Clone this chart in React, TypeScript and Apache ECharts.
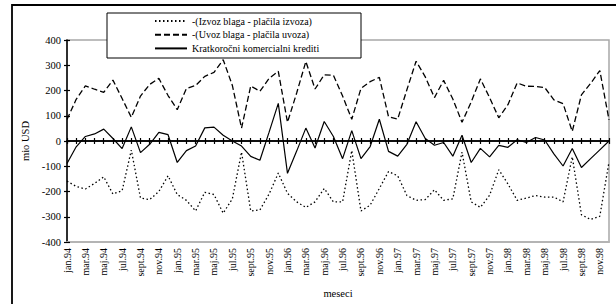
import React, { useEffect, useRef } from "react";
import * as echarts from "echarts";

const monthNames = ["jan", "feb", "mar", "apr", "maj", "jun", "jul", "avg", "sept", "okt", "nov", "dec"];
const years = ["94", "95", "96", "97", "98"];
const categories: string[] = [];
years.forEach((y) => monthNames.forEach((m) => categories.push(m + "." + y)));

const seriesNames = [
  "-(Izvoz blaga - plačila izvoza)",
  "-(Uvoz blaga - plačila uvoza)",
  "Kratkoročni komercialni krediti",
];

const izvoz = [
  -159, -180, -190, -168, -142, -210, -197, -36, -226, -232, -200, -138,
  -212, -235, -277, -203, -212, -286, -229, -44, -277, -273, -210, -127,
  -207, -241, -263, -241, -188, -241, -241, -38, -277, -254, -188, -121,
  -138, -216, -235, -232, -193, -235, -229, -44, -241, -263, -215, -114,
  -170, -235, -226, -216, -222, -222, -241, -63, -292, -311, -298, -83,
];

const uvoz = [
  85, 165, 218, 205, 193, 241, 168, 94, 178, 224, 248, 180,
  124, 208, 220, 256, 272, 322, 220, 51, 218, 197, 248, 276,
  74, 190, 315, 206, 262, 260, 178, 86, 208, 235, 252, 96,
  87, 203, 316, 254, 172, 240, 166, 74, 155, 246, 172, 92,
  144, 230, 217, 216, 212, 163, 148, 38, 183, 228, 279, 84,
];

const krediti = [
  -89, -23, 18, 28, 47, 10, -30, 56, -46, -13, 34, 25,
  -85, -38, -20, 52, 55, 23, 0, -20, -61, -76, 35, 149,
  -128, -40, 51, -28, 77, 18, -70, 41, -70, -22, 86, -41,
  -60, -13, 76, 10, -17, -6, -60, 23, -85, -29, -63, -17,
  -25, 5, -6, 14, 4, -51, -99, -30, -105, -70, -35, 0,
];

const FONT = "Liberation Serif, Times New Roman, serif";

export default function App() {
  const ref = useRef<HTMLDivElement>(null);
  useEffect(() => {
    if (!ref.current) return;
    const chart = echarts.init(ref.current, undefined, { renderer: "svg" });
    const zeroAxis = (inside: boolean) => ({
      type: "category",
      data: categories,
      boundaryGap: false,
      position: "bottom",
      axisLine: { show: true, onZero: true, onZeroAxisIndex: 0, lineStyle: { color: "#000", width: 1.5 } },
      axisTick: { show: true, interval: 0, inside, length: 3, lineStyle: { color: "#000", width: 1.2 } },
      axisLabel: { show: false },
      splitLine: { show: false },
    });
    chart.setOption({
      animation: false,
      textStyle: { fontFamily: FONT },
      grid: {
        left: 67,
        right: 7,
        top: 40,
        bottom: 54,
        show: true,
        borderColor: "#a8a8a8",
        borderWidth: 1.5,
        backgroundColor: "transparent",
      },
      legend: {
        orient: "vertical",
        left: 154,
        top: 16,
        itemWidth: 32,
        itemHeight: 10,
        itemGap: 3.7,
        padding: 0,
        itemStyle: { opacity: 0 },
        textStyle: { fontFamily: FONT, fontSize: 10, color: "#000" },
        data: seriesNames,
        z: 6,
      },
      graphic: [
        {
          type: "rect",
          shape: { x: 12, y: 5, width: 800, height: 500 },
          style: { fill: "none", stroke: "#000", lineWidth: 1.8 },
          z: 1,
          silent: true,
        },
        {
          type: "rect",
          shape: { x: 107, y: 13, width: 254, height: 45 },
          style: { fill: "#fff", stroke: "#000", lineWidth: 1 },
          z: 5,
          silent: true,
        },
      ],
      xAxis: [
        {
          type: "category",
          data: categories,
          boundaryGap: false,
          position: "bottom",
          name: "meseci",
          nameLocation: "middle",
          nameGap: 46,
          nameTextStyle: { fontFamily: FONT, fontSize: 10.5, color: "#000" },
          axisLine: { show: true, onZero: false, lineStyle: { color: "#b4b4b4", width: 2 } },
          axisTick: { show: false },
          axisLabel: {
            interval: 1,
            rotate: 90,
            margin: 6,
            fontFamily: FONT,
            fontSize: 10,
            color: "#000",
          },
          splitLine: { show: false },
        },
        zeroAxis(true),
        zeroAxis(false),
      ],
      yAxis: [
        {
          type: "value",
          min: -400,
          max: 400,
          interval: 100,
          name: "mio USD",
          nameLocation: "middle",
          nameGap: 32,
          nameTextStyle: { fontFamily: FONT, fontSize: 10.5, color: "#000" },
          axisLine: { show: true, onZero: false, lineStyle: { color: "#000", width: 1.5 } },
          axisTick: { show: true, length: 3, lineStyle: { color: "#000", width: 1.2 } },
          axisLabel: { margin: 6, fontFamily: FONT, fontSize: 10.5, color: "#000" },
          splitLine: { show: false },
        },
        {
          type: "value",
          min: -400,
          max: 400,
          interval: 100,
          position: "left",
          axisLine: { show: false, onZero: false },
          axisTick: { show: true, inside: true, length: 3, lineStyle: { color: "#000", width: 1.2 } },
          axisLabel: { show: false },
          splitLine: { show: false },
        },
      ],
      series: [
        {
          name: seriesNames[0],
          type: "line",
          data: izvoz,
          symbol: "none",
          lineStyle: { color: "#000", width: 1.3, type: [1.5, 2.5] },
          itemStyle: { color: "#000" },
          z: 3,
        },
        {
          name: seriesNames[1],
          type: "line",
          data: uvoz,
          symbol: "none",
          lineStyle: { color: "#000", width: 1.3, type: [6, 3] },
          itemStyle: { color: "#000" },
          z: 3,
        },
        {
          name: seriesNames[2],
          type: "line",
          data: krediti,
          symbol: "none",
          lineStyle: { color: "#000", width: 1.2, type: "solid" },
          itemStyle: { color: "#000" },
          z: 3,
        },
      ],
    });
    return () => chart.dispose();
  }, []);
  return <div ref={ref} style={{ width: 616, height: 304, position: "absolute", left: 0, top: 0 }} />;
}
